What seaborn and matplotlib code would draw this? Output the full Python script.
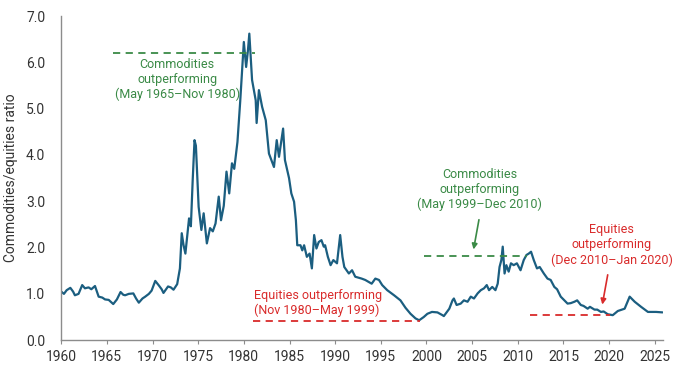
import pandas as pd
import matplotlib
matplotlib.use("Agg")
import matplotlib.pyplot as plt
import seaborn as sns

# commodities / equities ratio
years = [1960.0, 1960.3, 1960.6, 1961.0, 1961.3, 1961.5, 1961.9, 1962.3, 1962.6, 1963.0,
         1963.3, 1963.7, 1964.1, 1964.5, 1964.8, 1965.2, 1965.7, 1966.1, 1966.5, 1966.8,
         1967.0, 1967.4, 1967.9, 1968.2, 1968.5, 1968.9, 1969.2, 1969.6, 1969.9, 1970.3,
         1970.7, 1971.0, 1971.2, 1971.7, 1972.0, 1972.3, 1972.7, 1973.0, 1973.2, 1973.4,
         1973.6, 1974.0, 1974.2, 1974.4, 1974.6, 1974.75, 1975.05, 1975.35, 1975.6, 1975.95,
         1976.3, 1976.6, 1976.9, 1977.25, 1977.5, 1977.8, 1978.1, 1978.4, 1978.7, 1978.95,
         1979.3, 1979.6, 1980.0, 1980.25, 1980.45, 1980.6, 1980.9, 1981.3, 1981.4, 1981.65,
         1982.0, 1982.4, 1982.75, 1983.0, 1983.3, 1983.6, 1983.85, 1984.3, 1984.5, 1984.95,
         1985.2, 1985.5, 1985.7, 1985.85, 1986.2, 1986.4, 1986.6, 1986.9, 1987.2, 1987.45,
         1987.7, 1987.95, 1988.2, 1988.5, 1988.75, 1988.9, 1989.2, 1989.5, 1989.8, 1990.2,
         1990.55, 1990.8, 1991.0, 1991.5, 1991.85, 1992.2, 1992.9, 1993.3, 1994.0, 1994.4,
         1994.8, 1995.15, 1995.7, 1996.45, 1997.15, 1997.7, 1998.25, 1998.8, 1999.2, 1999.7,
         2000.1, 2000.6, 2001.2, 2001.75, 2001.9, 2002.5, 2002.85, 2003.0, 2003.3, 2003.75,
         2004.1, 2004.5, 2004.85, 2005.2, 2005.6, 2005.95, 2006.3, 2006.6, 2006.85, 2007.2,
         2007.55, 2007.8, 2008.0, 2008.2, 2008.35, 2008.55, 2008.75, 2009.0, 2009.25, 2009.55,
         2009.9, 2010.3, 2010.65, 2010.95, 2011.2, 2011.45, 2011.75, 2012.1, 2012.4, 2012.85,
         2013.25, 2013.6, 2014.0, 2014.3, 2014.7, 2015.0, 2015.45, 2015.8, 2016.2, 2016.5,
         2016.9, 2017.2, 2017.65, 2017.9, 2018.4, 2018.7, 2019.1, 2019.4, 2019.85, 2020.4,
         2020.95, 2021.7, 2022.25, 2022.8, 2023.5, 2024.25, 2025.15, 2025.85]
ratio = [1.05, 1.00, 1.08, 1.13, 1.05, 0.97, 1.00, 1.19, 1.12, 1.14,
         1.10, 1.17, 0.94, 0.92, 0.88, 0.87, 0.78, 0.88, 1.04, 0.98,
         0.97, 1.00, 1.01, 0.90, 0.81, 0.90, 0.94, 1.00, 1.07, 1.28,
         1.18, 1.10, 1.02, 1.16, 1.14, 1.09, 1.21, 1.55, 2.31, 2.05,
         1.87, 2.63, 2.46, 3.46, 4.32, 4.20, 2.88, 2.38, 2.74, 2.09,
         2.42, 2.35, 2.52, 3.10, 2.59, 2.90, 3.64, 3.17, 3.82, 3.70,
         4.28, 5.15, 6.44, 5.90, 6.26, 6.62, 5.62, 5.18, 4.69, 5.40,
         5.04, 4.75, 4.03, 3.90, 3.74, 4.32, 3.96, 4.57, 3.89, 3.50,
         3.17, 2.99, 2.59, 2.05, 2.05, 1.94, 2.05, 1.80, 1.87, 1.55,
         2.27, 1.98, 2.12, 2.16, 2.02, 2.05, 1.80, 1.62, 1.73, 1.66,
         2.27, 1.80, 1.58, 1.44, 1.51, 1.37, 1.33, 1.30, 1.22, 1.33,
         1.30, 1.19, 1.08, 0.97, 0.86, 0.70, 0.57, 0.47, 0.43, 0.50,
         0.57, 0.61, 0.60, 0.54, 0.52, 0.68, 0.86, 0.90, 0.76, 0.79,
         0.86, 0.83, 0.94, 0.90, 1.01, 1.08, 1.12, 1.19, 1.08, 1.15,
         1.08, 1.22, 1.58, 1.73, 2.02, 1.44, 1.62, 1.48, 1.66, 1.62,
         1.66, 1.51, 1.73, 1.84, 1.87, 1.91, 1.73, 1.55, 1.58, 1.44,
         1.33, 1.30, 1.15, 1.10, 0.94, 0.88, 0.79, 0.80, 0.83, 0.86,
         0.76, 0.74, 0.68, 0.72, 0.66, 0.66, 0.61, 0.62, 0.56, 0.54,
         0.63, 0.68, 0.94, 0.83, 0.72, 0.61, 0.61, 0.60]

# outperformance periods
period_start = [1965.7, 1981.0, 1999.7, 2011.3]
period_end = [1981.2, 1999.3, 2011.0, 2020.1]
period_level = [6.2, 0.42, 1.82, 0.54]
period_text = ["Commodities\noutperforming\n(May 1965–Nov 1980)",
               "Equities outperforming\n(Nov 1980–May 1999)",
               "Commodities\noutperforming\n(May 1999–Dec 2010)",
               "Equities\noutperforming\n(Dec 2010–Jan 2020)"]

GREEN = "#3a8a46"
RED = "#d92b2b"
period_colour = [GREEN, RED, GREEN, RED]

df = pd.DataFrame({"year": years, "ratio": ratio})

sns.set_style("white")
plt.rcParams["font.family"] = ["Roboto", "DejaVu Sans"]

fig = plt.figure(figsize=(6.8, 3.73), dpi=100)
ax = fig.add_axes([0.09, 0.088, 0.885, 0.869])

sns.lineplot(data=df, x="year", y="ratio", color="#1b5e80", linewidth=1.6,
             estimator=None, ax=ax)

for s, e, lev, c in zip(period_start, period_end, period_level, period_colour):
    ax.plot([s, e], [lev, lev], color=c, linestyle=(0, (4, 3)), linewidth=1.3)

ax.text(1972.7, 6.1, period_text[0], color=GREEN, ha="center", va="top",
        fontsize=9, linespacing=1.2)
ax.text(1981.1, 0.5, period_text[1], color=RED, ha="left", va="bottom",
        fontsize=9, linespacing=1.2)
ax.text(2005.8, 3.72, period_text[2], color=GREEN, ha="center", va="top",
        fontsize=9, linespacing=1.2)
ax.text(2020.3, 2.52, period_text[3], color=RED, ha="center", va="top",
        fontsize=9, linespacing=1.2)

ax.annotate("", xy=(2005.1, 1.9), xytext=(2005.8, 2.66),
            arrowprops=dict(arrowstyle="-|>", color=GREEN, lw=1.2, mutation_scale=8))
ax.annotate("", xy=(2019.2, 0.71), xytext=(2019.9, 1.47),
            arrowprops=dict(arrowstyle="-|>", color=RED, lw=1.2, mutation_scale=8))

ax.set_xlim(1960, 2025.9)
ax.set_ylim(0, 7)
ax.set_xticks(range(1960, 2026, 5))
ax.set_yticks([0, 1, 2, 3, 4, 5, 6, 7])
ax.set_yticklabels([f"{v:.1f}" for v in range(8)])
ax.set_xlabel("")
ax.set_ylabel("Commodities/equities ratio", fontsize=10, color="#333333", labelpad=6)

for side in ["top", "right"]:
    ax.spines[side].set_visible(False)
for side in ["left", "bottom"]:
    ax.spines[side].set_color("#8c8c8c")
    ax.spines[side].set_linewidth(1.0)

ax.tick_params(axis="x", bottom=True, length=3, color="#8c8c8c",
               labelsize=10, labelcolor="#333333", pad=4)
ax.tick_params(axis="y", left=False, labelsize=10, labelcolor="#333333", pad=8)

fig.savefig("out.png", dpi=100)
